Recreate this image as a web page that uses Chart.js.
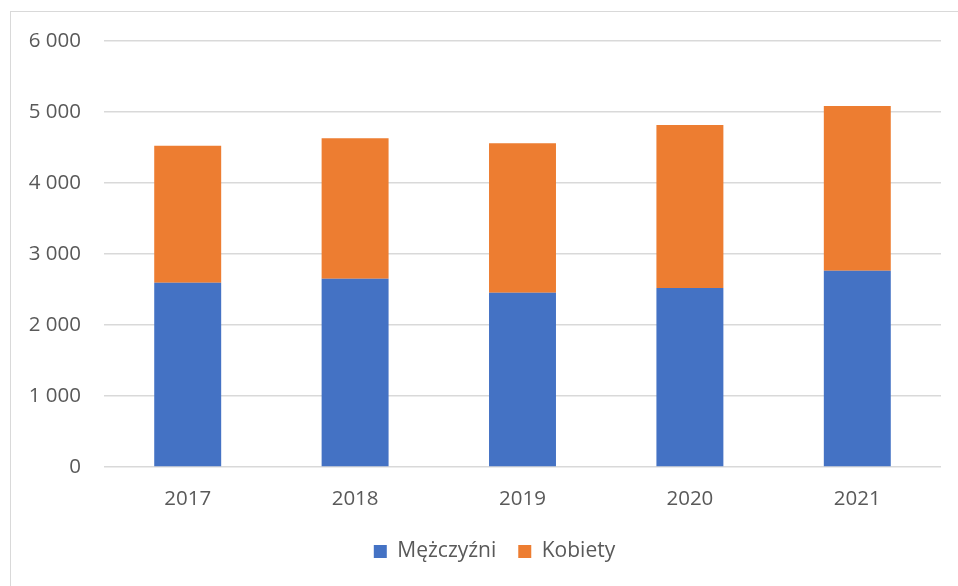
<!DOCTYPE html>
<html>
<head>
<meta charset="utf-8">
<script src="https://cdn.jsdelivr.net/npm/chart.js@4.4.1/dist/chart.umd.min.js"></script>
<style>
  html, body { margin: 0; padding: 0; background: #fff; overflow: hidden; }
  #wrap { position: absolute; left: 0; top: 0; width: 958px; height: 586px; }
  #frame { position: absolute; left: 10px; top: 11px; width: 1000px; height: 700px; border: 1px solid #d9d9d9; }
</style>
</head>
<body>
<div id="frame"></div>
<div id="wrap"><canvas id="chart"></canvas></div>
<script>
// data
var years = ['2017', '2018', '2019', '2020', '2021'];
var men = [2596, 2653, 2455, 2521, 2765];
var women = [1927, 1979, 2106, 2295, 2320];
var yTicks = [0, 1000, 2000, 3000, 4000, 5000, 6000];

var grey = '#595959';
var fontFamily = "'Open Sans', 'Noto Sans', sans-serif";

// "6 000" style thousands separator
function fmt(v) {
  return String(v).replace(/\B(?=(\d{3})+(?!\d))/g, ' ');
}

// legend in the original sits a bit right of centre
var shiftLegend = {
  id: 'shiftLegend',
  afterLayout: function (c) {
    c.legend.left += 24;
    c.legend.right += 24;
  }
};

var ctx = document.getElementById('chart');
var chart = new Chart(ctx, {
  type: 'bar',
  data: {
    labels: years,
    datasets: [
      {
        label: 'Mężczyźni',
        data: men,
        backgroundColor: '#4472C4',
        barPercentage: 0.4,
        categoryPercentage: 1.0
      },
      {
        label: 'Kobiety',
        data: women,
        backgroundColor: '#ED7D31',
        barPercentage: 0.4,
        categoryPercentage: 1.0
      }
    ]
  },
  plugins: [shiftLegend],
  options: {
    responsive: true,
    maintainAspectRatio: false,
    animation: false,
    layout: {
      padding: { left: 0, right: 17, top: 41, bottom: 14 }
    },
    plugins: {
      legend: {
        position: 'bottom',
        labels: {
          boxWidth: 13,
          boxHeight: 13,
          color: grey,
          padding: 22,
          font: { family: fontFamily, size: 21 }
        }
      },
      tooltip: { enabled: false }
    },
    scales: {
      x: {
        stacked: true,
        grid: { display: false },
        border: { display: false },
        ticks: {
          color: grey,
          padding: 12,
          font: { family: fontFamily, size: 20.5 }
        },
        afterFit: function (scale) { scale.height = 52; }
      },
      y: {
        stacked: true,
        min: 0,
        max: 6000,
        afterBuildTicks: function (scale) {
          scale.ticks = yTicks.map(function (v) { return { value: v }; });
        },
        grid: { color: '#d9d9d9', lineWidth: 1.5, drawTicks: false },
        border: { display: false },
        ticks: {
          color: grey,
          padding: 23,
          font: { family: fontFamily, size: 20.5 },
          callback: function (v) { return fmt(v); }
        },
        afterFit: function (scale) { scale.width = 104; }
      }
    }
  }
});
</script>
</body>
</html>
